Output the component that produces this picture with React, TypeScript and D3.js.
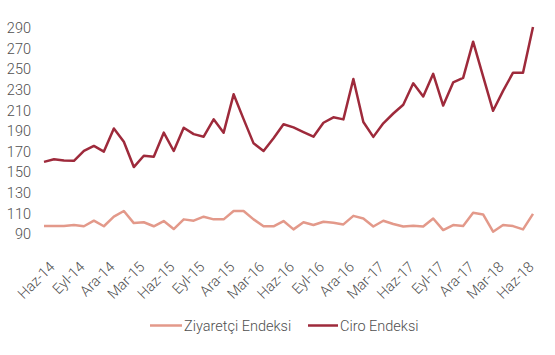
import React from "react";
import * as d3 from "d3";

const categories: string[] = [
  "Haz-14", "Tem-14", "Ağu-14", "Eyl-14", "Eki-14", "Kas-14", "Ara-14",
  "Oca-15", "Şub-15", "Mar-15", "Nis-15", "May-15", "Haz-15", "Tem-15", "Ağu-15", "Eyl-15", "Eki-15", "Kas-15", "Ara-15",
  "Oca-16", "Şub-16", "Mar-16", "Nis-16", "May-16", "Haz-16", "Tem-16", "Ağu-16", "Eyl-16", "Eki-16", "Kas-16", "Ara-16",
  "Oca-17", "Şub-17", "Mar-17", "Nis-17", "May-17", "Haz-17", "Tem-17", "Ağu-17", "Eyl-17", "Eki-17", "Kas-17", "Ara-17",
  "Oca-18", "Şub-18", "Mar-18", "Nis-18", "May-18", "Haz-18", "Tem-18",
];

const tickLabels: string[] = [
  "Haz-14", "Eyl-14", "Ara-14", "Mar-15", "Haz-15", "Eyl-15", "Ara-15", "Mar-16", "Haz-16",
  "Eyl-16", "Ara-16", "Mar-17", "Haz-17", "Eyl-17", "Ara-17", "Mar-18", "Haz-18",
];

const ziyaretci: number[] = [
  97.8, 97.8, 97.8, 98.7, 97.5, 102.9, 97.5, 106.8, 112.3, 100.6,
  101.4, 97.5, 102.6, 94.8, 104.2, 102.9, 106.8, 104.2, 104.2, 112.3,
  112.3, 104.2, 97.5, 97.5, 102.6, 94.5, 101.4, 98.7, 101.9, 101,
  99.3, 107.6, 105.1, 97.3, 102.9, 99.7, 97.3, 98, 97.3, 105.1,
  93.8, 98.7, 97.7, 110.6, 109, 92.2, 98.7, 97.7, 94.5, 109.5,
];

const ciro: number[] = [
  160, 162.5, 161.3, 161, 170.6, 175.5, 170, 192.5, 179.6, 155,
  166, 165, 188.4, 170.6, 193.2, 187, 184.5, 201.3, 188.4, 225.6,
  201.5, 178, 170.6, 183, 196.5, 193.5, 189, 184.5, 198, 203.3,
  201.3, 240.5, 198.7, 184.3, 197.5, 207, 215.5, 236.3, 223.5, 245.5,
  214.7, 237.2, 241.5, 276.7, 243, 209.6, 229, 246.6, 246.6, 291,
];

const yTicks: number[] = [90, 110, 130, 150, 170, 190, 210, 230, 250, 270, 290];

const seriesNames: string[] = ["Ziyaretçi Endeksi", "Ciro Endeksi"];
const seriesColors: string[] = ["#E3998A", "#9E2A3B"];

const W = 555;
const H = 355;
const FONT = "Roboto, 'Noto Sans', sans-serif";
const TEXT = "#4f4f4f";

export default function App() {
  const x = d3.scalePoint<string>().domain(categories).range([44, 533]);
  const y = d3.scaleLinear().domain([90, 290]).range([234, 28]);

  const line = d3
    .line<number>()
    .x((_, i) => x(categories[i]) as number)
    .y((d) => y(d));

  const series = [ziyaretci, ciro];

  return (
    <svg
      width={W}
      height={H}
      viewBox={`0 0 ${W} ${H}`}
      style={{ position: "absolute", left: 0, top: 0, display: "block", background: "#fff" }}
      fontFamily={FONT}
    >
      <rect x={0} y={0} width={W} height={H} fill="#fff" />
      {yTicks.map((t) => (
        <text
          key={t}
          x={31}
          y={y(t)}
          dy="0.36em"
          textAnchor="end"
          fontSize={14.5}
          fontWeight={300}
          fill={TEXT}
        >
          {t}
        </text>
      ))}
      {tickLabels.map((lab) => {
        const px = (x(lab) as number) + 8;
        const py = 264;
        return (
          <text
            key={lab}
            transform={`translate(${px},${py}) rotate(-45)`}
            dy="0.36em"
            textAnchor="end"
            fontSize={14.5}
            fontWeight={300}
            fill={TEXT}
          >
            {lab}
          </text>
        );
      })}
      {series.map((s, i) => (
        <path
          key={seriesNames[i]}
          d={line(s) || ""}
          fill="none"
          stroke={seriesColors[i]}
          strokeWidth={2.5}
          strokeLinejoin="round"
          strokeLinecap="butt"
        />
      ))}
      <g>
        <line x1={150} x2={182} y1={325.5} y2={325.5} stroke={seriesColors[0]} strokeWidth={2.5} />
        <text x={184} y={325.5} dy="0.36em" fontSize={14.5} fontWeight={300} fill={TEXT}>
          {seriesNames[0]}
        </text>
        <line x1={308} x2={338} y1={325.5} y2={325.5} stroke={seriesColors[1]} strokeWidth={2.5} />
        <text x={340} y={325.5} dy="0.36em" fontSize={14.5} fontWeight={300} fill={TEXT}>
          {seriesNames[1]}
        </text>
      </g>
    </svg>
  );
}
